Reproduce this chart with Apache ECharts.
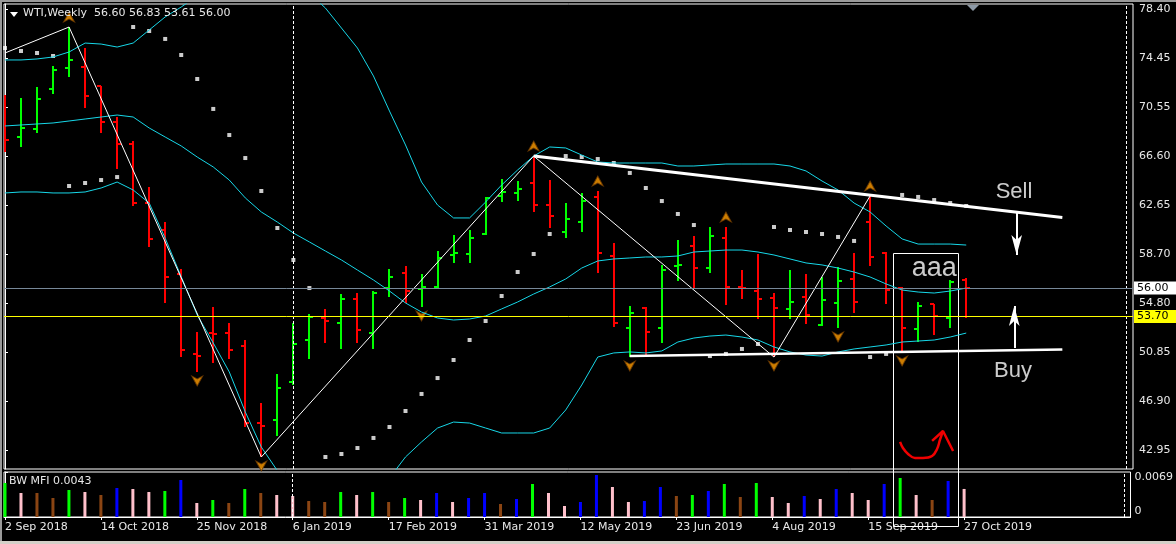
<!DOCTYPE html>
<html>
<head>
<meta charset="UTF-8">
<title>WTI Weekly</title>
<script src="https://cdn.jsdelivr.net/npm/echarts@6/dist/echarts.min.js"></script>
<style>
html, body { margin: 0; padding: 0; background: #000; }
#box { width: 1176px; height: 544px; }
</style>
</head>
<body>
<div id="box"></div>
<script>
// weekly bars, index 0 = week of 2 Sep 2018
var open = [69.80, 68.14, 68.79, 72.00, 73.69, 73.77, 72.25, 69.35, 67.58, 62.83,
  60.66, 57.12, 50.65, 52.37, 52.37, 51.33, 45.13, 45.38, 48.43, 51.81,
  53.58, 53.18, 55.11, 52.37, 56.00, 57.20, 55.95, 56.08, 58.65, 58.73,
  60.34, 63.40, 63.64, 64.44, 62.67, 60.50, 61.30, 63.32, 58.57, 52.78,
  54.39, 52.78, 57.76, 59.37, 57.60, 60.02, 56.08, 55.75, 55.19, 54.31,
  55.27, 53.02, 54.79, 56.72, 61.30, 58.81, 56.00, 52.70, 54.71, 53.58, 56.60];
var high = [71.52, 71.28, 72.17, 73.85, 76.99, 75.30, 72.25, 69.75, 67.82, 64.12,
  61.30, 57.52, 52.45, 54.47, 53.18, 51.81, 46.74, 49.08, 53.18, 53.90,
  54.31, 55.51, 55.59, 55.75, 57.52, 57.76, 57.12, 58.97, 60.26, 60.66,
  63.32, 64.76, 64.60, 66.61, 64.68, 62.83, 63.64, 63.80, 59.62, 54.55,
  54.47, 57.84, 59.86, 60.18, 60.90, 60.90, 57.44, 58.73, 55.59, 57.44,
  57.12, 56.88, 57.68, 58.81, 63.40, 58.89, 56.08, 54.87, 54.71, 56.64, 56.83];
var low = [66.94, 67.34, 68.46, 71.60, 72.97, 70.48, 68.46, 65.57, 62.59, 59.29,
  54.79, 50.44, 49.24, 49.96, 50.28, 44.81, 42.40, 44.09, 48.19, 50.28,
  51.57, 51.09, 51.57, 51.09, 55.27, 54.79, 54.47, 55.91, 58.01, 58.01,
  60.26, 62.91, 62.99, 62.11, 60.82, 60.02, 60.50, 57.20, 52.86, 50.44,
  50.60, 51.57, 56.56, 55.91, 57.20, 54.63, 55.11, 53.50, 50.44, 53.50,
  53.10, 52.94, 52.78, 53.98, 57.76, 54.71, 50.85, 51.65, 52.21, 52.78, 53.61];
var close = [67.90, 68.87, 71.20, 73.53, 74.34, 71.44, 69.35, 67.58, 62.83, 59.94,
  56.88, 51.01, 50.55, 52.30, 51.01, 45.13, 44.89, 47.95, 51.49, 53.66,
  53.34, 55.11, 52.62, 55.59, 56.88, 55.75, 56.05, 58.41, 58.80, 60.02,
  63.24, 63.72, 63.96, 62.67, 61.79, 61.55, 62.99, 58.81, 53.18, 53.98,
  52.45, 57.44, 57.84, 57.60, 60.18, 56.08, 56.00, 55.11, 54.39, 54.87,
  53.82, 55.03, 56.56, 54.87, 58.49, 55.83, 52.78, 54.55, 53.74, 56.48, 56.00];

// bollinger bands
var bbUpper = [74.34, 74.34, 74.42, 74.58, 74.98, 75.70, 75.62, 75.38, 75.70, 76.75,
  77.80, 78.60, 79.50, 80.30, 80.90, 81.30, 81.50, 81.40, 80.80, 79.70,
  78.52, 76.91, 75.30, 73.05, 70.23, 67.50, 64.52, 62.67, 61.63, 61.63,
  62.91, 64.28, 65.49, 66.61, 67.34, 67.26, 66.69, 66.13, 66.05, 66.05,
  66.05, 66.05, 65.81, 65.81, 65.89, 65.97, 65.97, 65.97, 65.97, 65.81,
  65.41, 64.60, 63.88, 62.83, 62.11, 60.98, 59.94, 59.53, 59.53, 59.53, 59.45];
var bbMiddle = [69.03, 69.11, 69.19, 69.27, 69.43, 69.59, 69.75, 69.91, 69.75, 68.87,
  68.14, 67.42, 66.53, 65.73, 64.68, 63.24, 62.11, 61.30, 60.42, 59.70,
  58.97, 58.25, 57.44, 56.64, 55.75, 54.79, 54.06, 53.58, 53.42, 53.50,
  53.74, 54.31, 54.87, 55.51, 56.08, 56.72, 57.60, 58.17, 58.33, 58.41,
  58.49, 58.49, 58.57, 58.89, 58.97, 59.05, 59.05, 58.89, 58.65, 58.33,
  58.01, 57.85, 57.60, 57.28, 56.88, 56.32, 55.83, 55.67, 55.59, 55.75, 55.99];
var bbLower = [63.64, 63.72, 63.72, 63.64, 63.64, 63.72, 64.04, 64.52, 63.88, 62.83,
  60.00, 56.90, 53.82, 51.57, 49.24, 46.02, 43.20, 41.30, 39.74, 38.94,
  38.54, 38.54, 38.94, 39.58, 40.71, 42.40, 43.61, 44.73, 45.21, 45.13,
  44.73, 44.33, 44.33, 44.33, 44.73, 46.18, 48.19, 50.44, 50.77, 50.85,
  50.77, 50.93, 51.65, 51.97, 52.13, 52.21, 52.05, 51.81, 51.25, 50.85,
  50.60, 50.52, 50.85, 51.09, 51.25, 51.41, 51.65, 51.73, 51.81, 52.05, 52.37];

// parabolic SAR
var sar = [75.30, 75.06, 74.90, 74.66, 64.20, 64.44, 64.68, 64.92, 76.99, 76.67,
  76.03, 74.74, 72.81, 70.40, 68.30, 66.45, 63.80, 60.82, 58.25, 55.99,
  42.40, 42.64, 43.12, 43.93, 44.81, 46.10, 47.47, 48.75, 50.20, 51.81,
  53.34, 55.35, 57.28, 58.73, 60.34, 66.61, 66.53, 66.37, 66.05, 65.25,
  64.04, 62.99, 61.95, 61.06, 50.52, 50.69, 51.09, 51.49, 60.90, 60.66,
  60.50, 60.34, 60.10, 59.78, 50.44, 50.69, 63.48, 63.32, 63.07, 62.83, 62.59];

// Bill Williams market facilitation index
var mfi = [0.00521, 0.00368, 0.00368, 0.00291, 0.00414, 0.00383, 0.00337, 0.00445, 0.00429, 0.00383,
  0.00399, 0.00567, 0.00215, 0.00261, 0.00215, 0.00429, 0.00368, 0.00337, 0.00322, 0.00245,
  0.00230, 0.00383, 0.00337, 0.00383, 0.00230, 0.00291, 0.00261, 0.00368, 0.00230, 0.00291,
  0.00368, 0.00199, 0.00276, 0.00506, 0.00368, 0.00169, 0.00230, 0.00644, 0.00460, 0.00230,
  0.00245, 0.00460, 0.00322, 0.00337, 0.00399, 0.00506, 0.00307, 0.00521, 0.00307, 0.00215,
  0.00322, 0.00276, 0.00429, 0.00368, 0.00261, 0.00506, 0.00598, 0.00337, 0.00261, 0.00552, 0.00430];
var mfiZone = ['up', 'squat', 'fade', 'fade', 'up', 'squat', 'fade', 'fake', 'squat', 'squat',
  'up', 'fake', 'squat', 'up', 'fade', 'up', 'fade', 'squat', 'squat', 'fade',
  'fade', 'up', 'squat', 'up', 'fade', 'up', 'squat', 'fake', 'squat', 'fake',
  'fake', 'fade', 'fake', 'up', 'squat', 'squat', 'fake', 'fake', 'squat', 'squat',
  'fake', 'fake', 'fade', 'up', 'fake', 'up', 'fade', 'up', 'squat', 'squat',
  'fake', 'squat', 'fake', 'squat', 'squat', 'fake', 'up', 'squat', 'fade', 'fake', 'squat'];

var tickLabels = ['2 Sep 2018', '14 Oct 2018', '25 Nov 2018', '6 Jan 2019', '17 Feb 2019', '31 Mar 2019',
  '12 May 2019', '23 Jun 2019', '4 Aug 2019', '15 Sep 2019', '27 Oct 2019'];
var priceTicks = [42.95, 46.90, 50.85, 54.80, 58.70, 62.65, 66.60, 70.55, 74.45, 78.40];

var fractalUp = [4, 33, 37, 45, 54];
var fractalDown = [12, 16, 26, 39, 48, 52, 56];
var zigzag = [[0, 74.90], [4, 76.99], [16, 42.40], [33, 66.61], [48, 50.44], [54, 63.40]];

// hand drawn objects, [bar index, price]
var sellLine = [[33, 66.61], [66, 61.67]];
var buyLine = [[39, 50.52], [66, 51.05]];
var sellArrow = [[63.15, 62.03], [63.15, 58.65]];
var buyArrow = [[63.0, 51.17], [63.0, 54.55]];
var notes = [['Sell', 62.98, 63.74], ['Buy', 62.92, 49.32], ['aaa', 58.0, 57.52]];
var box = [55.43, 58.81, 59.49, 36.85];
var redCurve = [[55.87, 43.61], [56.05, 43.12], [56.37, 42.64], [56.80, 42.32], [57.30, 42.32],
  [57.87, 42.48], [58.18, 43.04], [58.36, 43.77], [58.55, 44.49]];
var redHead = [[57.87, 43.69], [58.55, 44.49], [59.18, 42.88]];
var bidPrice = 56.00;
var levelPrice = 53.70;
var yearSeparators = [18, 70];

var FONT = 'DejaVu Sans';
var TXT = '#e8e8e8';
var CYAN = '#17d7e8';
var zoneColor = { up: '#00ff00', fade: '#8b4513', fake: '#0000ff', squat: '#ffc0cb' };
var xMin = -0.062, xMax = 70.41;

var mychart = echarts.init(document.getElementById('box'));

var n = open.length - 1;
var header = 'WTI,Weekly  ' + [open[n], high[n], low[n], close[n]].map(function (v) { return v.toFixed(2); }).join(' ');

function pairs(arr) { return arr.map(function (v, i) { return [i, v]; }); }

var sepLines = yearSeparators.map(function (x) {
    return { xAxis: x, lineStyle: { color: '#fff', width: 1, type: [3, 2] } };
});

var option = {
    backgroundColor: '#000',
    animation: false,
    title: [
        { text: header, left: 23, top: 8, padding: 0,
          textStyle: { color: TXT, fontFamily: FONT, fontSize: 11, fontWeight: 'normal' } },
        { text: 'BW MFI ' + mfi[n].toFixed(4), left: 9, top: 476, padding: 0,
          textStyle: { color: TXT, fontFamily: FONT, fontSize: 11, fontWeight: 'normal' } }
    ],
    grid: [
        { left: 4, top: 4, width: 1129, height: 465, show: true, borderColor: '#fff', borderWidth: 1 },
        { left: 4, top: 472, width: 1129, height: 45, show: true, borderColor: '#fff', borderWidth: 1 }
    ],
    xAxis: [
        { gridIndex: 0, type: 'value', min: xMin, max: xMax, show: false, splitLine: { show: false } },
        { gridIndex: 1, type: 'value', min: xMin, max: xMax, splitLine: { show: false },
          axisLine: { lineStyle: { color: '#fff' } },
          axisTick: { customValues: tickLabels.map(function (t, k) { return k * 6; }), length: 3, lineStyle: { color: '#fff' } },
          axisLabel: { customValues: tickLabels.map(function (t, k) { return k * 6; }), align: 'left', margin: 5,
                       color: TXT, fontFamily: FONT, fontSize: 11,
                       formatter: function (v) { return tickLabels[Math.round(v / 6)]; } } }
    ],
    yAxis: [
        { gridIndex: 0, type: 'value', position: 'right', min: 41.433, max: 78.842, splitLine: { show: false },
          axisLine: { show: true, lineStyle: { color: '#fff' } },
          axisTick: { show: true, customValues: priceTicks, length: 3, lineStyle: { color: '#fff' } },
          axisLabel: { customValues: priceTicks, margin: 6, color: TXT, fontFamily: FONT, fontSize: 11,
                       formatter: function (v) { return v.toFixed(2); } } },
        { gridIndex: 1, type: 'value', position: 'right', min: 0, max: 0.0069, splitLine: { show: false },
          axisLine: { show: true, lineStyle: { color: '#fff' } },
          axisTick: { show: true, customValues: [0.0069], length: 3, lineStyle: { color: '#fff' } },
          axisLabel: { customValues: [0.0069], margin: 4, verticalAlign: 'top', color: TXT, fontFamily: FONT, fontSize: 11,
                       formatter: function (v) { return v.toFixed(4); } } },
        { gridIndex: 1, type: 'value', position: 'right', min: 0, max: 0.0069, splitLine: { show: false },
          axisLine: { show: false }, axisTick: { show: false },
          axisLabel: { customValues: [0], margin: 4, verticalAlign: 'bottom', color: TXT, fontFamily: FONT, fontSize: 11,
                       formatter: function (v) { return '0'; } } }
    ],
    series: [
        { name: 'upper', type: 'line', data: pairs(bbUpper), showSymbol: false, lineStyle: { color: CYAN, width: 1 } },
        { name: 'lower', type: 'line', data: pairs(bbLower), showSymbol: false, lineStyle: { color: CYAN, width: 1 } },
        { name: 'middle', type: 'line', data: pairs(bbMiddle), showSymbol: false, lineStyle: { color: CYAN, width: 1 },
          markLine: {
              silent: true, symbol: ['none', 'none'],
              data: sepLines.concat([
                  { yAxis: bidPrice, lineStyle: { color: '#778899', width: 1, type: 'solid' },
                    label: { show: true, position: 'end', distance: 1, formatter: bidPrice.toFixed(2), color: '#000',
                             backgroundColor: '#fff', padding: [1, 8, 1, 3], fontFamily: FONT, fontSize: 11 } },
                  { yAxis: levelPrice, lineStyle: { color: '#ffff00', width: 1, type: 'solid' },
                    label: { show: true, position: 'end', distance: 1, formatter: levelPrice.toFixed(2), color: '#000',
                             backgroundColor: '#ffff00', padding: [1, 8, 1, 3], fontFamily: FONT, fontSize: 11 } },
                  [{ coord: sellLine[0], lineStyle: { color: '#fff', width: 3, type: 'solid' }, label: { show: false } },
                   { coord: sellLine[1] }],
                  [{ coord: buyLine[0], lineStyle: { color: '#fff', width: 2.5, type: 'solid' }, label: { show: false } },
                   { coord: buyLine[1] }],
                  [{ coord: sellArrow[0], lineStyle: { color: '#fff', width: 2, type: 'solid' }, label: { show: false } },
                   { coord: sellArrow[1], symbol: 'arrow', symbolSize: [8, 20] }],
                  [{ coord: buyArrow[0], lineStyle: { color: '#fff', width: 2, type: 'solid' }, label: { show: false } },
                   { coord: buyArrow[1], symbol: 'arrow', symbolSize: [8, 20] }]
              ])
          } },
        { name: 'zigzag', type: 'line', data: zigzag, showSymbol: false, lineStyle: { color: '#fff', width: 1 } },
        { name: 'bars', type: 'custom', clip: true, data: open.map(function (o, i) { return [i, o, high[i], low[i], close[i]]; }),
          encode: { x: 0, y: [1, 2, 3, 4] },
          renderItem: function (params, api) {
              var i = api.value(0);
              var pO = api.coord([i, api.value(1)]);
              var pH = api.coord([i, api.value(2)]);
              var pL = api.coord([i, api.value(3)]);
              var pC = api.coord([i, api.value(4)]);
              var col = api.value(4) >= api.value(1) ? '#00ff00' : '#ff0000';
              var x = Math.round(pH[0]);
              var st = { stroke: col, lineWidth: 2 };
              return { type: 'group', children: [
                  { type: 'line', shape: { x1: x, y1: Math.round(pH[1]), x2: x, y2: Math.round(pL[1]) }, style: st },
                  { type: 'line', shape: { x1: x - 4, y1: Math.round(pO[1]), x2: x, y2: Math.round(pO[1]) }, style: st },
                  { type: 'line', shape: { x1: x, y1: Math.round(pC[1]), x2: x + 4, y2: Math.round(pC[1]) }, style: st }
              ] };
          } },
        { name: 'sar', type: 'scatter', data: pairs(sar), symbol: 'rect', symbolSize: 4, itemStyle: { color: '#fff' } },
        { name: 'fractal up', type: 'scatter', data: fractalUp.map(function (i) { return [i, high[i]]; }),
          symbol: 'path://M5,0 L10,10 L5,7 L0,10 Z', symbolSize: [11, 10], symbolOffset: [0, -10],
          itemStyle: { color: '#ff9c00', borderColor: '#6b3a00', borderWidth: 1 } },
        { name: 'fractal down', type: 'scatter', data: fractalDown.map(function (i) { return [i, low[i]]; }),
          symbol: 'path://M5,0 L10,10 L5,7 L0,10 Z', symbolSize: [11, 10], symbolRotate: 180, symbolOffset: [0, 9],
          itemStyle: { color: '#ff9c00', borderColor: '#6b3a00', borderWidth: 1 } },
        { name: 'notes', type: 'scatter', symbolSize: 0,
          data: notes.map(function (t) {
              return { name: t[0], value: [t[1], t[2]],
                       label: { fontSize: t[0] === 'aaa' ? 27 : 22 } };
          }),
          label: { show: true, position: 'inside', formatter: '{b}', color: '#fff', fontFamily: 'Liberation Sans' } },
        { name: 'curve', type: 'line', data: redCurve, smooth: 0.4, showSymbol: false, lineStyle: { color: '#f00000', width: 2.5 } },
        { name: 'curve head', type: 'line', data: redHead, showSymbol: false, lineStyle: { color: '#f00000', width: 2.5 } },
        { name: 'box', type: 'custom', clip: false, data: [box], encode: { x: [0, 2], y: [1, 3] },
          renderItem: function (params, api) {
              var a = api.coord([api.value(0), api.value(1)]);
              var b = api.coord([api.value(2), api.value(3)]);
              var x0 = Math.round(a[0]) + 0.5, y0 = Math.round(a[1]) + 0.5;
              return { type: 'rect', shape: { x: x0, y: y0, width: Math.round(b[0] - a[0]), height: Math.round(b[1] - a[1]) },
                       style: { fill: 'none', stroke: '#fff', lineWidth: 1 } };
          } },
        { name: 'mfi', type: 'bar', xAxisIndex: 1, yAxisIndex: 1, barWidth: 3,
          data: mfi.map(function (v, i) { return { value: [i, v], itemStyle: { color: zoneColor[mfiZone[i]] } }; }),
          markLine: { silent: true, symbol: ['none', 'none'], label: { show: false }, data: sepLines } }
    ],
    graphic: [
        { type: 'rect', shape: { x: 0, y: 0, width: 1176, height: 2 }, style: { fill: '#9a9a9a' }, silent: true },
        { type: 'rect', shape: { x: 0, y: 0, width: 2, height: 544 }, style: { fill: '#9a9a9a' }, silent: true },
        { type: 'rect', shape: { x: 0, y: 541, width: 1176, height: 3 }, style: { fill: '#d4d0c8' }, silent: true },
        { type: 'polygon', shape: { points: [[10, 12], [18, 12], [14, 17]] }, style: { fill: '#fff' }, silent: true },
        { type: 'polygon', shape: { points: [[967, 5], [979, 5], [973, 11]] }, style: { fill: '#8d99a6' }, silent: true }
    ]
};

mychart.setOption(option);
</script>
</body>
</html>
